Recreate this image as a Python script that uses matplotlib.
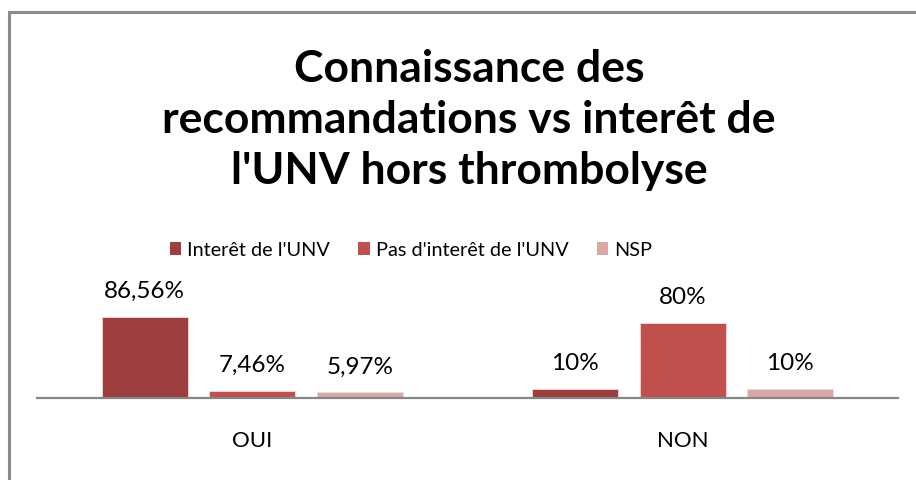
import matplotlib.pyplot as plt
from matplotlib.patches import Patch, Rectangle
import numpy as np

categories = ['OUI', 'NON']
series = ["Interêt de l'UNV", "Pas d'interêt de l'UNV", 'NSP']
values = [
    [86.56, 10.0],
    [7.46, 80.0],
    [5.97, 10.0],
]
labels = [
    ['86,56%', '10%'],
    ['7,46%', '80%'],
    ['5,97%', '10%'],
]
colors = ['#9c3f3e', '#c0504d', '#d9a7a6']

plt.rcParams['font.family'] = ['Lato', 'DejaVu Sans']

fig = plt.figure(figsize=(9.16, 4.8), dpi=100)

# outer chart frame
fig.patches.append(Rectangle((8.5 / 916, -0.2), 1.2, (480 - 11.5) / 480 + 0.2,
                             transform=fig.transFigure, fill=False,
                             edgecolor='#8c8c8c', linewidth=2.2))

ax = fig.add_axes([37 / 916, (480 - 398) / 480, 861 / 916, 93.6 / 480])

x = np.arange(len(categories))
offsets = [-0.25, 0, 0.25]
for vals, labs, off, col in zip(values, labels, offsets, colors):
    bars = ax.bar(x + off, vals, width=0.2, color=col, edgecolor='#f2dcdb', linewidth=0.6)
    for b, lab in zip(bars, labs):
        ax.annotate(lab, (b.get_x() + b.get_width() / 2, b.get_height()),
                    xytext=(0, 13.5), textcoords='offset points',
                    ha='center', va='baseline', fontsize=17.5)

ax.set_xlim(-0.5, 1.5)
ax.set_ylim(0, 100)
ax.set_yticks([])
ax.set_xticks(x)
ax.set_xticklabels(categories, fontsize=16)
ax.tick_params(axis='x', length=0, pad=24)
for s in ['left', 'right', 'top']:
    ax.spines[s].set_visible(False)
ax.spines['bottom'].set_color('#868686')
ax.spines['bottom'].set_linewidth(1.6)
ax.patch.set_alpha(0)

fig.text(469 / 916, 1 - 120 / 480,
         "Connaissance des\nrecommandations vs interêt de\nl'UNV hors thrombolyse",
         ha='center', va='center', fontsize=32, fontweight='bold', linespacing=1.33)

handles = [Patch(facecolor=c, edgecolor='none') for c in colors]
fig.legend(handles, series, loc='center', bbox_to_anchor=(411 / 916, 1 - 250 / 480),
           ncol=3, frameon=False, fontsize=14.3, handlelength=0.6, handleheight=0.65,
           handletextpad=0.3, columnspacing=1.4)

fig.savefig('out.png', dpi=100)
